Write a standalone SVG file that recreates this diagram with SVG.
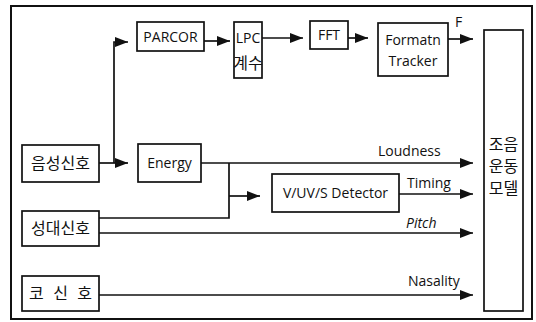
<svg xmlns="http://www.w3.org/2000/svg" width="536" height="322" viewBox="0 0 536 322">
<style>
.box{fill:#fff;stroke:#111;stroke-width:1.7}
.ln{fill:none;stroke:#111;stroke-width:1.7}
.t{font-family:"Open Sans","Liberation Sans",sans-serif;font-size:14px;fill:#111}
.k{font-family:"Noto Sans CJK KR","Noto Sans",sans-serif;font-size:16px;fill:#111}
.c{text-anchor:middle}
</style>
<defs>
<marker id="ah" markerUnits="userSpaceOnUse" markerWidth="14" markerHeight="11" refX="13" refY="5" orient="auto">
<path d="M0,0 L13,5 L0,10 z" fill="#111"/>
</marker>
</defs>
<rect x="11" y="6" width="521" height="313" fill="#fff" stroke="#111" stroke-width="2"/>
<g id="connectors">
<path class="ln" d="M99,163 H128" marker-end="url(#ah)"/>
<path class="ln" d="M114,163 V42 H128" marker-end="url(#ah)"/>
<path class="ln" d="M204,41 H230" marker-end="url(#ah)"/>
<path class="ln" d="M262,38 H303" marker-end="url(#ah)"/>
<path class="ln" d="M348,38 H368" marker-end="url(#ah)"/>
<path class="ln" d="M448,39 H473" marker-end="url(#ah)"/>
<path class="ln" d="M201,163 H473" marker-end="url(#ah)"/>
<path class="ln" d="M99,218 H229 V163"/>
<path class="ln" d="M229,196 H260" marker-end="url(#ah)"/>
<path class="ln" d="M399,194 H473" marker-end="url(#ah)"/>
<path class="ln" d="M99,233 H473" marker-end="url(#ah)"/>
<path class="ln" d="M99,295 H473" marker-end="url(#ah)"/>
<text class="t" x="455" y="27" font-size="12">F</text>
<text class="t" x="378" y="156">Loudness</text>
<text class="t" x="407" y="188">Timing</text>
<text class="t" x="406" y="228" font-style="italic">Pitch</text>
<text class="t" x="408" y="286">Nasality</text>
</g>
<g id="voice">
<rect class="box" x="22" y="145" width="77" height="37"/>
<text class="k c" x="60.5" y="169">음성신호</text>
</g>
<g id="glottal">
<rect class="box" x="22" y="211" width="77" height="35"/>
<text class="k c" x="60.5" y="234">성대신호</text>
</g>
<g id="nasal">
<rect class="box" x="22" y="276" width="77" height="35"/>
<text class="k" x="29" y="299" textLength="63" lengthAdjust="spacing">코 신 호</text>
</g>
<g id="parcor">
<rect class="box" x="137" y="22" width="67" height="29"/>
<text class="t c" x="170.5" y="42" font-size="15">PARCOR</text>
</g>
<g id="lpc">
<rect class="box" x="234" y="22" width="28" height="56"/>
<text class="t c" x="248" y="43" font-size="13">LPC</text>
<text class="k c" x="248" y="69" font-size="13">계수</text>
</g>
<g id="fft">
<rect class="box" x="310" y="21" width="38" height="28"/>
<text class="t c" x="329" y="40" font-size="15">FFT</text>
</g>
<g id="tracker">
<rect class="box" x="378" y="23" width="70" height="53"/>
<text class="t c" x="413" y="45" font-size="15">Formatn</text>
<text class="t c" x="413" y="66" font-size="15">Tracker</text>
</g>
<g id="energy">
<rect class="box" x="138" y="144" width="63" height="38"/>
<text class="t c" x="169.5" y="168" font-size="15">Energy</text>
</g>
<g id="detector">
<rect class="box" x="272" y="174" width="127" height="38"/>
<text class="t c" x="335.5" y="198" font-size="15">V/UV/S Detector</text>
</g>
<g id="model">
<rect class="box" x="484" y="30" width="39" height="281"/>
<text class="k c" font-size="13"><tspan x="503.5" y="150">조음</tspan><tspan x="503.5" y="172">운동</tspan><tspan x="503.5" y="194">모델</tspan></text>
</g>
</svg>
